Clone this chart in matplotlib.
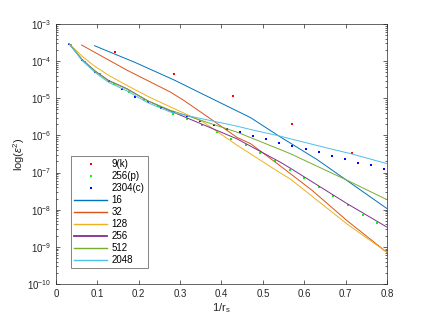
import numpy as np
import matplotlib
matplotlib.use('Agg')
import matplotlib.pyplot as plt

plt.rcParams['font.family'] = ['Liberation Sans', 'DejaVu Sans']
plt.rcParams['mathtext.fontset'] = 'custom'
plt.rcParams['mathtext.rm'] = 'Liberation Sans'
plt.rcParams['mathtext.it'] = 'Liberation Sans:italic'

# scatter data (x = 1/r_s, y = log10(eps^2))
x_k = [0.1429, 0.2857, 0.4286, 0.5714, 0.7143]
y_k = [-3.76, -4.35, -4.94, -5.70, -6.47]

x_p = [0.0353 * k for k in range(1, 23)]
y_p = [-3.57, -4.02, -4.36, -4.62, -4.84, -5.06, -5.21, -5.43, -5.55, -5.73,
       -5.91, -6.10, -6.27, -6.48, -6.69, -6.92, -7.15, -7.39, -7.63, -7.88,
       -8.13, -8.37]

x_c = [0.03175 * k for k in range(1, 26)]
y_c = [-3.53, -3.97, -4.29, -4.54, -4.76, -4.96, -5.09, -5.26, -5.37, -5.48,
       -5.60, -5.72, -5.82, -5.92, -6.01, -6.11, -6.20, -6.28, -6.37, -6.46,
       -6.55, -6.64, -6.73, -6.81, -6.90]

# lines
x16 = [0.093, 0.19, 0.284, 0.397, 0.47, 0.542, 0.631, 0.704, 0.8]
y16 = [-3.585, -4.03, -4.50, -5.12, -5.52, -6.04, -6.65, -7.22, -7.97]

x32 = [0.062, 0.171, 0.276, 0.308, 0.373, 0.437, 0.47, 0.542, 0.619, 0.704, 0.8]
y32 = [-3.567, -4.24, -4.83, -5.05, -5.55, -6.05, -6.22, -6.82, -7.48, -8.30, -9.15]

x128 = [0.0315, 0.0635, 0.09, 0.127, 0.171, 0.222, 0.276, 0.356, 0.437, 0.542, 0.566, 0.704, 0.8]
y128 = [-3.53, -3.87, -4.11, -4.38, -4.65, -4.95, -5.23, -5.64, -6.26, -7.01, -7.17, -8.39, -9.15]

x256 = [0.0315, 0.0635, 0.095, 0.127, 0.171, 0.222, 0.276, 0.437, 0.542, 0.566, 0.704, 0.8]
y256 = [-3.53, -3.96, -4.27, -4.52, -4.74, -5.07, -5.34, -6.09, -6.72, -6.88, -7.84, -8.47]

x512 = [0.0315, 0.0635, 0.095, 0.127, 0.171, 0.222, 0.276, 0.437, 0.542, 0.566, 0.704, 0.8]
y512 = [-3.53, -3.96, -4.28, -4.53, -4.75, -5.07, -5.32, -5.91, -6.38, -6.49, -7.21, -7.73]

x2048 = [0.0315, 0.0635, 0.095, 0.127, 0.171, 0.222, 0.276, 0.437, 0.47, 0.542, 0.566, 0.663, 0.712, 0.8]
y2048 = [-3.53, -3.99, -4.31, -4.57, -4.80, -5.12, -5.37, -5.75, -5.84, -6.02, -6.09, -6.36, -6.49, -6.76]

labels = ['9(k)', '256(p)', '2304(c)', '16', '32', '128', '256', '512', '2048']
colors = ['#0072BD', '#D95319', '#EDB120', '#7E2F8E', '#77AC30', '#4DBEEE']

fig = plt.figure(figsize=(4.28, 3.21), dpi=100)
ax = fig.add_axes([0.1308, 0.1153, 0.7734, 0.81])

pw = lambda v: 10.0 ** np.array(v)

ms = 1.9
ax.plot(x_k, pw(y_k), 's', color='#FF0000', markersize=ms, markeredgewidth=0)
ax.plot(x_p, pw(y_p), 's', color='#00FF00', markersize=ms, markeredgewidth=0)
ax.plot(x_c, pw(y_c), 's', color='#0000FF', markersize=ms, markeredgewidth=0)
lw = 0.7
ax.plot(x16, pw(y16), color=colors[0], lw=lw)
ax.plot(x32, pw(y32), color=colors[1], lw=lw)
ax.plot(x128, pw(y128), color=colors[2], lw=lw)
ax.plot(x256, pw(y256), color=colors[3], lw=lw)
ax.plot(x512, pw(y512), color=colors[4], lw=lw)
ax.plot(x2048, pw(y2048), color=colors[5], lw=lw)

ax.set_yscale('log')
ax.set_xlim(0, 0.8)
ax.set_ylim(1e-10, 1e-3)
ax.set_xticks(np.arange(0, 0.81, 0.1))
ax.set_xticklabels(['0', '0.1', '0.2', '0.3', '0.4', '0.5', '0.6', '0.7', '0.8'])
ax.set_yticks([10.0 ** e for e in range(-10, -2)])
ax.tick_params(which='both', direction='in', top=True, right=True,
               labelsize=7, colors='#262626', width=0.5)
ax.tick_params(which='major', length=3)
ax.tick_params(which='minor', length=1.5)
for s in ax.spines.values():
    s.set_color('#262626')
    s.set_linewidth(0.5)

ax.set_xlabel('1/r$_\\mathrm{s}$', fontsize=8, color='#262626', labelpad=2)
ax.set_ylabel('log($\\varepsilon^2$)', fontsize=8, color='#262626', labelpad=0)

leg = ax.legend(labels, loc='lower left', bbox_to_anchor=(0.045, 0.06),
                fontsize=7, borderaxespad=0, handlelength=3.4, handletextpad=0.4,
                labelspacing=0.2, borderpad=0.35, fancybox=False, frameon=True,
                markerscale=0.9)
leg.get_frame().set_edgecolor('#262626')
leg.get_frame().set_linewidth(0.5)
for i, h in enumerate(leg.get_lines()[3:]):
    h.set_linewidth(1.3 if i == 3 else 1.0)

fig.savefig('out.png', dpi=100)
